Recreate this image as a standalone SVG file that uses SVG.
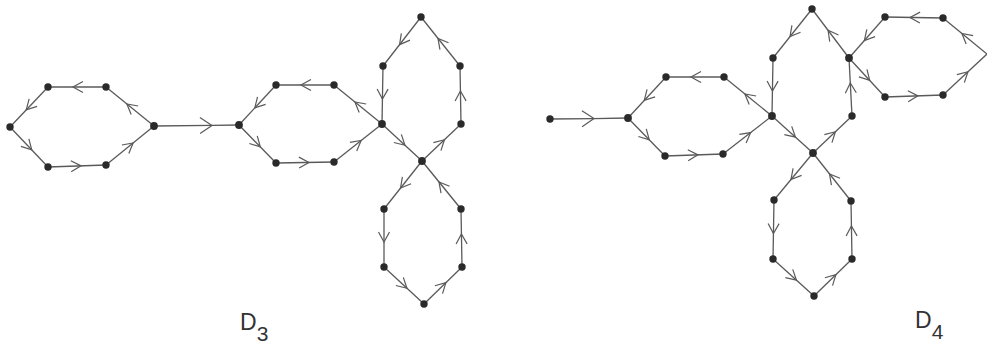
<svg xmlns="http://www.w3.org/2000/svg" width="987" height="345" viewBox="0 0 987 345">
<defs>
<style>
.e{fill:none;stroke:#5a5a5a;stroke-width:1.3;marker-mid:url(#ch)}
.eb{fill:none;stroke:#5a5a5a;stroke-width:1.3;marker-mid:url(#chb)}
.n{fill:#2a2a2a}
.lbl{font-family:"Liberation Sans",Arial,sans-serif;fill:#333;font-size:23px}
</style>
<marker id="ch" markerUnits="userSpaceOnUse" orient="auto" overflow="visible" refX="-4" refY="0" markerWidth="20" markerHeight="20" viewBox="-12 -8 20 16">
<path d="M -10 -5.5 L 0 0 L -10 5.5" fill="none" stroke="#5a5a5a" stroke-width="1.2"/>
</marker>
<marker id="chb" markerUnits="userSpaceOnUse" orient="auto" overflow="visible" refX="0" refY="0" markerWidth="20" markerHeight="20" viewBox="-14 -9 20 18">
<path d="M -12 -8 L 0 0 L -12 8" fill="none" stroke="#5a5a5a" stroke-width="1.2"/>
</marker>
</defs>
<g id="connectors">
<path class="e" d="M106 87 L77 87 L48 87"/>
<path class="e" d="M154 126 L130 106.5 L106 87"/>
<path class="e" d="M48 87 L29 107 L10 127"/>
<path class="e" d="M10 127 L29 147 L48 167"/>
<path class="e" d="M48 167 L77 166 L106 165"/>
<path class="e" d="M106 165 L130 145.5 L154 126"/>
<path class="eb" d="M154 126 L212 125.4 L239 125"/>
<path class="e" d="M334 85 L305 85 L276 85"/>
<path class="e" d="M382 124 L358 104.5 L334 85"/>
<path class="e" d="M276 85 L257.5 105 L239 125"/>
<path class="e" d="M239 125 L257.5 144 L276 163"/>
<path class="e" d="M276 163 L305 162.5 L334 162"/>
<path class="e" d="M334 162 L358 143 L382 124"/>
<path class="e" d="M421 17 L402 41.5 L383 66"/>
<path class="e" d="M383 66 L382.5 95 L382 124"/>
<path class="e" d="M382 124 L402 142.5 L422 161"/>
<path class="e" d="M422 161 L441.5 142.5 L461 124"/>
<path class="e" d="M461 124 L460.5 95 L460 66"/>
<path class="e" d="M460 66 L440.5 41.5 L421 17"/>
<path class="e" d="M422 161 L403 185 L384 209"/>
<path class="e" d="M384 209 L384 238 L384 267"/>
<path class="e" d="M384 267 L404 285.5 L424 304"/>
<path class="e" d="M424 304 L443 285.5 L462 267"/>
<path class="e" d="M462 267 L461.5 238 L461 209"/>
<path class="e" d="M461 209 L441.5 185 L422 161"/>
<path class="eb" d="M550 119 L594 118.6 L628 118"/>
<path class="e" d="M724 77 L695 77 L666 77"/>
<path class="e" d="M772 116 L748 96.5 L724 77"/>
<path class="e" d="M666 77 L647 97.5 L628 118"/>
<path class="e" d="M628 118 L646.5 137 L665 156"/>
<path class="e" d="M665 156 L694 155 L723 154"/>
<path class="e" d="M723 154 L747.5 135 L772 116"/>
<path class="e" d="M812 9 L792.5 33.5 L773 58"/>
<path class="e" d="M773 58 L772.5 87 L772 116"/>
<path class="e" d="M772 116 L792.5 134.5 L813 153"/>
<path class="e" d="M813 153 L832.5 134.5 L852 116"/>
<path class="e" d="M852 116 L850.5 87 L849 58"/>
<path class="e" d="M849 58 L830.5 33.5 L812 9"/>
<path class="e" d="M885 17 L867 37.5 L849 58"/>
<path class="e" d="M943 18 L914 17.5 L885 17"/>
<path class="e" d="M987 54 L965 36 L943 18"/>
<path class="e" d="M849 58 L867 77.5 L885 97"/>
<path class="e" d="M885 97 L914 96 L943 95"/>
<path class="e" d="M943 95 L965 74.5 L987 54"/>
<path class="e" d="M813 153 L793.5 176.5 L774 200"/>
<path class="e" d="M774 200 L773.5 229.5 L773 259"/>
<path class="e" d="M773 259 L793.5 277.5 L814 296"/>
<path class="e" d="M814 296 L833 277.5 L852 259"/>
<path class="e" d="M852 259 L851.5 230 L851 201"/>
<path class="e" d="M851 201 L832 177 L813 153"/>
</g>
<g id="D3">
<g id="d3-n1"><circle class="n" cx="10" cy="127" r="3.7"/></g>
<g id="d3-n2"><circle class="n" cx="48" cy="87" r="3.7"/></g>
<g id="d3-n3"><circle class="n" cx="106" cy="87" r="3.7"/></g>
<g id="d3-n4"><circle class="n" cx="154" cy="126" r="3.9"/></g>
<g id="d3-n5"><circle class="n" cx="48" cy="167" r="3.7"/></g>
<g id="d3-n6"><circle class="n" cx="106" cy="165" r="3.7"/></g>
<g id="d3-n7"><circle class="n" cx="239" cy="125" r="3.9"/></g>
<g id="d3-n8"><circle class="n" cx="276" cy="85" r="3.7"/></g>
<g id="d3-n9"><circle class="n" cx="334" cy="85" r="3.7"/></g>
<g id="d3-n10"><circle class="n" cx="382" cy="124" r="3.9"/></g>
<g id="d3-n11"><circle class="n" cx="276" cy="163" r="3.7"/></g>
<g id="d3-n12"><circle class="n" cx="334" cy="162" r="3.7"/></g>
<g id="d3-n13"><circle class="n" cx="421" cy="17" r="3.7"/></g>
<g id="d3-n14"><circle class="n" cx="383" cy="66" r="3.7"/></g>
<g id="d3-n15"><circle class="n" cx="460" cy="66" r="3.7"/></g>
<g id="d3-n16"><circle class="n" cx="461" cy="124" r="3.7"/></g>
<g id="d3-n17"><circle class="n" cx="422" cy="161" r="3.9"/></g>
<g id="d3-n18"><circle class="n" cx="384" cy="209" r="3.7"/></g>
<g id="d3-n19"><circle class="n" cx="461" cy="209" r="3.7"/></g>
<g id="d3-n20"><circle class="n" cx="384" cy="267" r="3.7"/></g>
<g id="d3-n21"><circle class="n" cx="462" cy="267" r="3.7"/></g>
<g id="d3-n22"><circle class="n" cx="424" cy="304" r="3.7"/></g>
<text id="d3-label" class="lbl" x="240" y="330">D<tspan font-size="21" dy="11">3</tspan></text>
</g>
<g id="D4">
<g id="d4-n1"><circle class="n" cx="550" cy="119" r="3.7"/></g>
<g id="d4-n2"><circle class="n" cx="628" cy="118" r="3.9"/></g>
<g id="d4-n3"><circle class="n" cx="666" cy="77" r="3.7"/></g>
<g id="d4-n4"><circle class="n" cx="724" cy="77" r="3.7"/></g>
<g id="d4-n5"><circle class="n" cx="772" cy="116" r="3.9"/></g>
<g id="d4-n6"><circle class="n" cx="665" cy="156" r="3.7"/></g>
<g id="d4-n7"><circle class="n" cx="723" cy="154" r="3.7"/></g>
<g id="d4-n8"><circle class="n" cx="812" cy="9" r="3.7"/></g>
<g id="d4-n9"><circle class="n" cx="773" cy="58" r="3.7"/></g>
<g id="d4-n10"><circle class="n" cx="849" cy="58" r="3.9"/></g>
<g id="d4-n11"><circle class="n" cx="852" cy="116" r="3.7"/></g>
<g id="d4-n12"><circle class="n" cx="813" cy="153" r="3.9"/></g>
<g id="d4-n13"><circle class="n" cx="885" cy="17" r="3.7"/></g>
<g id="d4-n14"><circle class="n" cx="943" cy="18" r="3.7"/></g>
<g id="d4-n15"><circle class="n" cx="885" cy="97" r="3.7"/></g>
<g id="d4-n16"><circle class="n" cx="943" cy="95" r="3.7"/></g>
<g id="d4-n17"><circle class="n" cx="774" cy="200" r="3.7"/></g>
<g id="d4-n18"><circle class="n" cx="851" cy="201" r="3.7"/></g>
<g id="d4-n19"><circle class="n" cx="773" cy="259" r="3.7"/></g>
<g id="d4-n20"><circle class="n" cx="852" cy="259" r="3.7"/></g>
<g id="d4-n21"><circle class="n" cx="814" cy="296" r="3.7"/></g>
<text id="d4-label" class="lbl" x="915" y="328">D<tspan font-size="21" dy="11">4</tspan></text>
</g>
</svg>
